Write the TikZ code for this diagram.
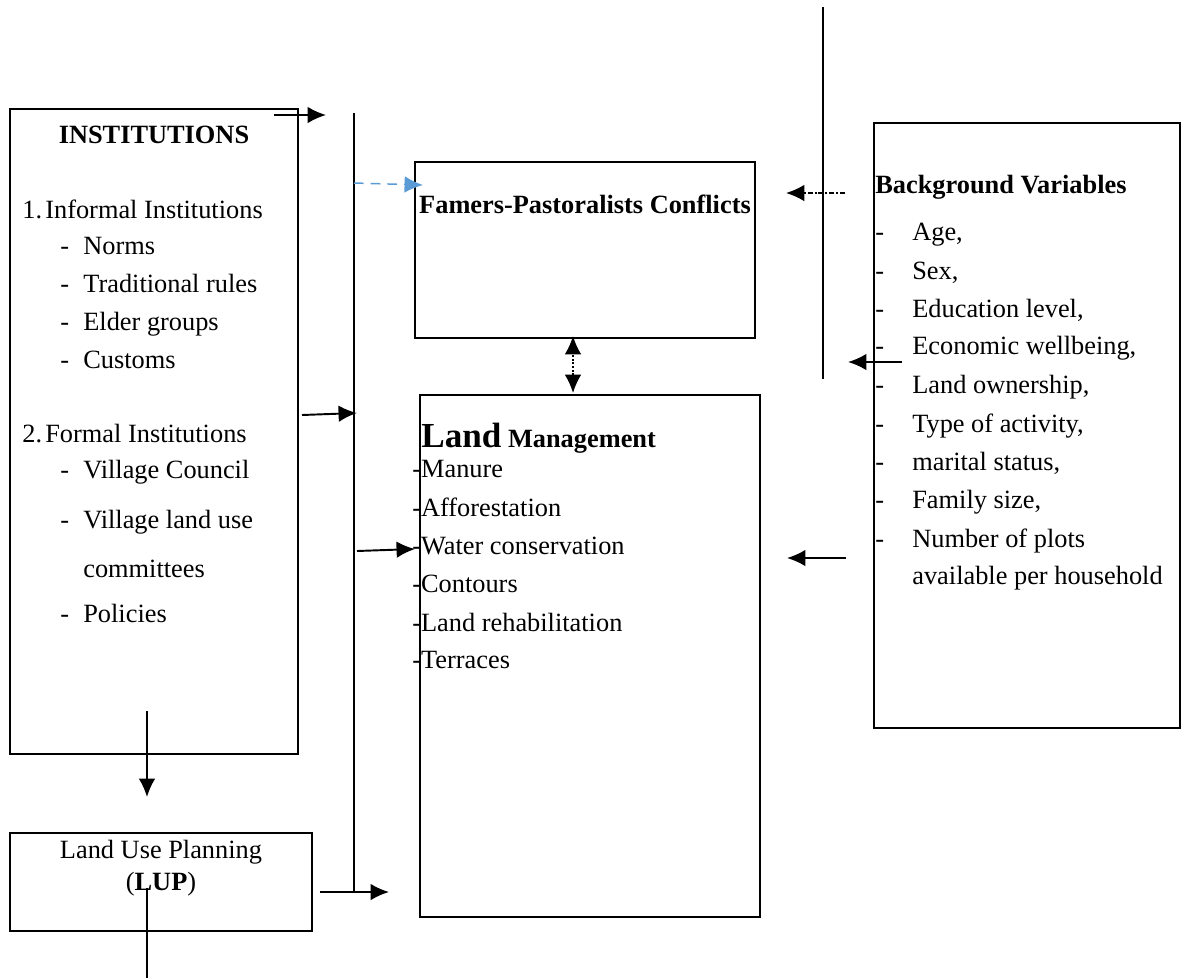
\documentclass[tikz,border=0pt]{standalone}
\usepackage{fontspec}
\setmainfont{Liberation Serif}
\usetikzlibrary{arrows.meta}

\definecolor{linkblue}{RGB}{91,155,213}
\newcommand{\lft}[1]{\makebox[0.46cm][l]{#1}}
\newcommand{\bgv}[1]{\makebox[0.74cm][l]{-}#1}

\tikzset{
  box/.style={draw, line width=1.1pt, inner sep=0pt},
  txt/.style={anchor=base west, inner sep=0pt, font=\fontsize{15}{18}\selectfont},
  ttl/.style={anchor=base, inner sep=0pt, font=\fontsize{15}{18}\selectfont\bfseries},
  tip/.tip={Latex[length=10.5pt,width=9.5pt]},
  link/.style={line width=1.1pt, -tip},
  rule/.style={line width=1.1pt}
}

\begin{document}
\begin{tikzpicture}[x=0.02cm,y=-0.02cm]
\useasboundingbox (0,0) rectangle (1182,978);

% boxes
\node[box, minimum width=5.76cm, minimum height=12.9cm] (inst) at (154,431.5) {};
\node[box, minimum width=6.04cm, minimum height=1.96cm] (lup) at (161,882) {};
\node[box, minimum width=6.8cm, minimum height=3.52cm] (fpc) at (585,250) {};
\node[box, minimum width=6.8cm, minimum height=10.44cm] (lm) at (590,656) {};
\node[box, minimum width=6.12cm, minimum height=12.1cm] (bg) at (1027,425.5) {};

% institutions
\node[ttl] (instT) at (154,143) {INSTITUTIONS};
\node[txt] (inf) at (22,218) {\lft{1.}Informal Institutions};
\node[txt] (norms) at (60,254) {\lft{-}Norms};
\node[txt] (trad) at (60,292) {\lft{-}Traditional rules};
\node[txt] (elder) at (60,330) {\lft{-}Elder groups};
\node[txt] (cust) at (60,368) {\lft{-}Customs};
\node[txt] (form) at (22,442) {\lft{2.}Formal Institutions};
\node[txt] (vc) at (60,478) {\lft{-}Village Council};
\node[txt] (vluc) at (60,528) {\lft{-}Village land use};
\node[txt] (comm) at (83,577) {committees};
\node[txt] (pol) at (60,622) {\lft{-}Policies};

% land use planning
\node[ttl, font=\fontsize{15}{18}\selectfont] (lupA) at (161,858) {Land Use Planning};
\node[ttl, font=\fontsize{15}{18}\selectfont] (lupB) at (161,890) {(\textbf{LUP})};

% conflicts
\node[ttl] (fpcT) at (585,213) {Famers-Pastoralists Conflicts};

% land management
\node[txt, font=\fontsize{15}{18}\selectfont\bfseries] (lmT) at (421,447) {{\fontsize{20}{24}\selectfont Land} Management};
\node[txt] (man) at (412,477) {-Manure};
\node[txt] (aff) at (412,516) {-Afforestation};
\node[txt] (wat) at (412,554) {-Water conservation};
\node[txt] (cont) at (412,592) {-Contours};
\node[txt] (reh) at (412,631) {-Land rehabilitation};
\node[txt] (ter) at (412,668) {-Terraces};

% background variables
\node[txt, font=\fontsize{15}{18}\selectfont\bfseries] (bgT) at (875,193) {Background Variables};
\node[txt] (age) at (875,240) {\bgv{Age,}};
\node[txt] (sex) at (875,279) {\bgv{Sex,}};
\node[txt] (edu) at (875,317) {\bgv{Education level,}};
\node[txt] (eco) at (875,354) {\bgv{Economic wellbeing,}};
\node[txt] (own) at (875,393) {\bgv{Land ownership,}};
\node[txt] (act) at (875,432) {\bgv{Type of activity,}};
\node[txt] (mar) at (875,470) {\bgv{marital status,}};
\node[txt] (fam) at (875,508) {\bgv{Family size,}};
\node[txt] (plots) at (875,547) {\bgv{Number of plots}};
\node[txt] (hh) at (912,584) {available per household};

% line ends
\coordinate (spineT) at (354,113);
\coordinate (spineB) at (354,892);
\coordinate (railT) at (823,7);
\coordinate (railB) at (823,379);
\coordinate (topA) at (274,115);
\coordinate (topB) at (326,115);
\coordinate (midA) at (302,415);
\coordinate (midB) at (357,413);
\coordinate (downA) at (147,711);
\coordinate (downB) at (147,797);
\coordinate (tailA) at (147,888);
\coordinate (tailB) at (147,978);
\coordinate (lupA2) at (320,892);
\coordinate (lupB2) at (389,892);
\coordinate (blueA) at (354,183);
\coordinate (blueB) at (423,185);
\coordinate (dotA) at (845,193);
\coordinate (dotB) at (786,193);
\coordinate (ddA) at (573,393);
\coordinate (ddB) at (573,336);
\coordinate (watA) at (357,551);
\coordinate (watB) at (415,549);
\coordinate (rgtA) at (846,558);
\coordinate (rgtB) at (787,558);
\coordinate (ecoA) at (902,362);
\coordinate (ecoB) at (848,362);

% connectors
\draw[rule] (spineT) -- (spineB);
\draw[rule] (railT) -- (railB);
\draw[link] (topA) -- (topB);
\draw[link] (midA) -- (midB);
\draw[link] (downA) -- (downB);
\draw[rule] (tailA) -- (tailB);
\draw[link] (lupA2) -- (lupB2);
\draw[link, linkblue, line width=0.85pt, dash pattern=on 5.5pt off 4pt] (blueA) -- (blueB);
\draw[link, densely dash dot, line width=0.9pt] (dotA) -- (dotB);
\draw[link, tip-tip, densely dotted, line width=0.9pt] (ddA) -- (ddB);
\draw[link] (watA) -- (watB);
\draw[link] (rgtA) -- (rgtB);
\draw[link] (ecoA) -- (ecoB);
\end{tikzpicture}
\end{document}
